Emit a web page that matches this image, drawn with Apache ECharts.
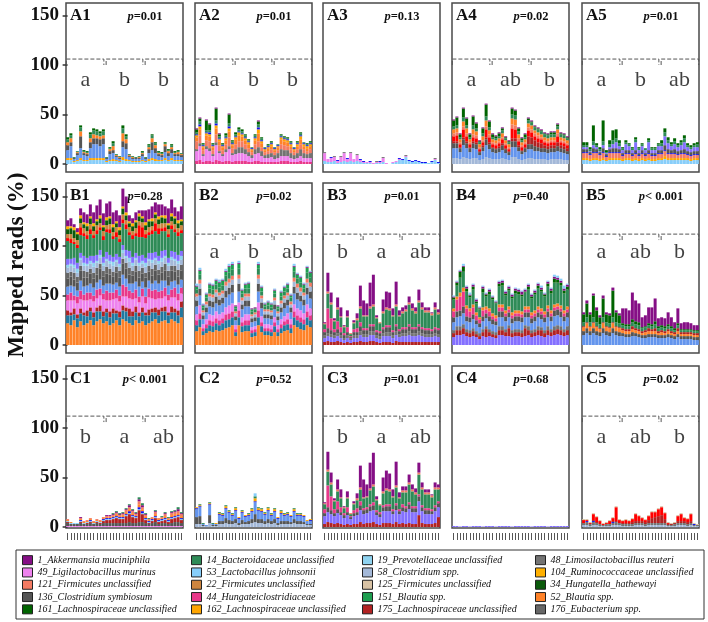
<!DOCTYPE html>
<html><head><meta charset="utf-8">
<script src="https://cdn.jsdelivr.net/npm/echarts@6/dist/echarts.min.js"></script>
<style>html,body{margin:0;padding:0;background:#fff}#c{width:708px;height:622px}</style>
</head><body><div id="c"></div>
<script>
// ---------- categories / labels ----------
const SAMPLES = ['1','2','3','4','5','6','7','8','9','10','11','12','13','14','15','16','17','18','19','20','21','22','23','24','25','26','27','28','29','30','31','32','33','34','35','36'];
const Y_TICKS = [0, 50, 100, 150];
const PANEL_IDS = ['A1','A2','A3','A4','A5','B1','B2','B3','B4','B5','C1','C2','C3','C4','C5'];
const P_VALUES = ['=0.01','=0.01','=0.13','=0.02','=0.01','=0.28','=0.02','=0.01','=0.40','< 0.001','< 0.001','=0.52','=0.01','=0.68','=0.02'];
const GROUP_LETTERS = [['a','b','b'],['a','b','b'],null,['a','ab','b'],['a','b','ab'],null,['a','b','ab'],['b','a','ab'],null,['a','ab','b'],['b','a','ab'],null,['b','a','ab'],null,['a','ab','b']];

// ---------- species ----------
const SP_KEYS = ['s1','s49','s121','s136','s161','s14','s53','s22','s44','s162','s19','s58','s125','s151','s175','s48','s104','s34','s52','s176','xcf','xred','xmp','xteal','xblue'];
const SP_NAMES = ['1_Akkermansia muciniphila','49_Ligilactobacillus murinus','121_Firmicutes unclassified','136_Clostridium symbiosum','161_Lachnospiraceae unclassified',
  '14_Bacteroidaceae unclassified','53_Lactobacillus johnsonii','22_Firmicutes unclassified','44_Hungateiclostridiaceae','162_Lachnospiraceae unclassified',
  '19_Prevotellaceae unclassified','58_Clostridium spp.','125_Firmicutes unclassified','151_Blautia spp.','175_Lachnospiraceae unclassified',
  '48_Limosilactobacillus reuteri','104_Ruminococcaceae unclassified','34_Hungatella_hathewayi','52_Blautia spp.','176_Eubacterium spp.',
  'Other taxa 1','Other taxa 2','Other taxa 3','Other taxa 4','Other taxa 5'];
const SP_COLORS = ['#850F85','#EE82EE','#F47B63','#555555','#006400',
  '#2E8B57','#87CEFA','#CD853F','#E8388A','#FFA500',
  '#8FD3F0','#A3B8D8','#D9C3A5','#1E9E50','#B22222',
  '#737373','#FFB000','#0B5A0B','#FF8228','#666666',
  '#6495ED','#FF0000','#8470FF','#1F78A0','#1010F0'];

// ---------- A1 ----------
const A1_s53 = [4,4,2,3,4,3,3,4,4,4,4,4, 2,3,3,3,2,4,3,3,2,2,2,3, 2,3,4,3,3,3,4,3,4,3,3,3];
const A1_s162 = [2,2,1,1,2,1,1,2,2,2,2,2, 1,1,2,1,1,3,2,1,1,1,1,1, 1,2,2,2,1,1,2,1,2,1,1,1];
const A1_xcf = [8,12,2,5,10,5,4,10,14,14,12,14, 2,6,6,3,2,10,10,3,2,2,2,4, 2,6,8,6,4,3,6,4,5,4,4,3];
const A1_s136 = [5,4,1,2,12,2,2,6,6,6,7,6, 1,3,3,1,1,6,6,1,1,1,1,2, 1,4,8,5,2,2,6,3,4,2,2,2];
const A1_s52 = [3,4,0,1,5,1,1,4,4,3,3,3, 0,2,4,1,1,8,4,1,1,0,1,1, 0,2,4,3,1,1,2,2,2,1,2,1];
const A1_s14 = [3,3,1,1,4,1,1,4,4,4,3,4, 1,1,3,1,1,5,3,1,1,1,1,1, 1,2,3,2,1,1,1,1,2,1,1,1];
const A1_s161 = [2,2,0,0,2,1,1,2,2,2,2,2, 0,1,2,0,0,3,2,0,0,0,0,1, 0,1,1,1,1,1,1,1,1,1,1,0];
// ---------- A2 ----------
const A2_s44 = [3,4,2,3,3,2,4,3,2,3,3,2, 3,3,3,3,2,2,3,3,2,2,2,2, 2,2,3,3,3,2,2,2,3,2,2,2];
const A2_s49 = [10,14,6,12,10,6,15,8,6,9,12,7, 7,8,8,7,6,4,7,8,6,4,4,5, 3,4,5,5,5,4,3,4,5,4,4,4];
const A2_s48 = [2,3,2,3,3,2,3,2,2,3,3,2, 5,6,6,5,4,3,5,6,5,3,4,4, 4,5,7,6,6,5,4,5,7,5,4,5];
const A2_s121 = [8,8,4,6,7,4,8,6,4,5,9,5, 5,6,6,5,4,3,5,6,4,3,3,4, 3,3,5,5,4,4,3,4,5,4,3,4];
const A2_s52 = [4,6,3,5,5,3,6,4,3,4,6,3, 5,6,5,4,4,2,4,8,4,2,3,3, 2,3,5,4,4,3,2,3,5,3,3,3];
const A2_s162 = [2,3,1,2,2,1,3,2,1,2,3,1, 2,3,2,2,2,1,2,4,2,1,1,2, 1,1,2,2,2,2,1,2,3,2,2,2];
const A2_xblue = [1,2,1,1,2,1,2,1,1,1,2,1, 1,1,1,1,1,1,1,2,1,1,1,1, 1,1,1,1,1,1,1,1,1,1,1,1];
const A2_s14 = [2,3,1,2,2,1,3,2,1,2,3,2, 2,2,2,2,1,1,2,3,2,1,1,1, 1,1,1,1,1,1,1,1,2,1,1,1];
const A2_s161 = [3,3,1,10,6,1,12,2,1,2,9,1, 2,2,2,1,1,0,1,3,1,0,1,1, 0,0,1,1,1,1,0,1,1,0,1,1];
const A2_s1 = [1,1,0,1,1,0,1,1,0,0,1,0, 0,0,0,0,0,0,0,1,0,0,0,0, 0,0,0,0,0,0,0,0,0,0,0,0];
// ---------- A3 ----------
const A3_s53 = [3,2,2,3,1,2,3,2,3,2,3,2, 1,1,1,0,1,1,2,0,0,1,2,4, 4,7,3,2,3,2,1,1,1,2,4,1];
const A3_s49 = [8,3,4,4,2,5,8,3,8,3,6,2, 1,1,1,1,1,1,4,1,0,1,1,1, 0,1,0,0,0,0,0,0,0,0,1,0];
const A3_xblue = [0,0,1,0,1,0,0,1,0,0,0,1, 1,0,1,0,0,1,0,0,0,0,0,1, 1,0,1,1,1,1,1,1,0,1,0,1];
const A3_s48 = [1,0,0,1,0,1,1,0,1,0,1,0, 0,0,0,0,1,0,1,0,0,0,0,0, 0,1,0,0,0,0,0,0,0,0,1,0];
// ---------- A4 ----------
const A4_s58 = [6,6,5,7,6,5,6,6,4,5,7,6, 5,5,5,6,5,4,7,7,5,4,5,6, 6,5,5,5,5,4,5,5,5,5,4,4];
const A4_xcf = [10,10,7,12,10,7,10,9,5,8,12,9, 7,6,7,8,6,5,10,10,8,6,7,9, 9,8,8,7,7,7,7,7,8,7,7,6];
const A4_s136 = [5,5,4,6,5,4,5,5,3,4,6,5, 4,4,4,5,4,3,6,6,4,3,4,5, 5,5,4,4,4,4,4,4,5,4,4,3];
const A4_s175 = [2,2,1,2,2,1,2,2,1,2,2,2, 1,1,2,2,1,1,3,3,2,1,1,8, 7,6,5,5,3,3,3,3,4,3,3,3];
const A4_xred = [5,6,3,8,5,3,4,4,2,3,8,5, 3,3,3,4,3,2,10,9,4,3,3,6, 5,4,4,4,3,3,3,3,6,3,3,3];
const A4_s121 = [3,3,2,3,3,2,3,3,2,2,3,3, 2,2,2,2,2,2,4,4,3,2,2,3, 3,3,3,2,2,2,2,2,3,2,2,2];
const A4_s52 = [4,4,3,5,5,3,5,4,3,4,6,4, 3,3,3,4,3,3,6,6,4,3,3,4, 4,3,3,3,3,3,3,3,4,3,3,3];
const A4_s14 = [3,3,2,4,3,2,4,3,2,3,4,3, 2,2,2,3,2,2,4,4,3,2,2,3, 3,3,3,3,3,3,3,3,3,3,3,2];
const A4_s161 = [6,8,3,9,7,3,9,5,1,5,12,6, 3,2,3,2,1,1,6,5,3,2,3,2, 1,1,1,1,1,1,2,2,2,1,1,1];
const A4_s1 = [1,1,1,1,1,1,1,1,1,1,1,1, 1,1,1,1,1,1,1,1,1,1,1,1, 1,1,1,1,1,1,1,1,1,1,1,1];
// ---------- A5 ----------
const A5_s53 = [4,4,3,4,4,3,4,3,4,4,4,4, 3,4,4,3,4,3,4,3,4,3,3,4, 4,5,4,4,4,4,4,4,4,3,4,4];
const A5_s162 = [2,2,2,2,2,2,2,1,2,2,2,2, 2,2,2,2,2,2,2,2,2,2,2,2, 2,3,2,2,2,2,2,2,2,2,2,2];
const A5_s121 = [5,5,4,5,5,4,5,3,5,5,5,5, 3,4,4,3,4,3,4,3,4,3,3,4, 4,5,4,4,4,3,4,4,3,3,3,3];
const A5_xblue = [1,1,1,1,1,1,1,1,1,1,1,1, 1,1,1,1,1,1,1,1,1,1,1,1, 1,1,1,1,1,1,1,1,1,1,1,1];
const A5_s136 = [3,3,2,4,3,2,4,2,3,4,4,3, 2,3,3,2,3,2,3,2,3,2,2,3, 3,5,4,3,4,3,3,4,3,3,3,3];
const A5_xmp = [2,2,1,3,2,1,3,1,2,4,6,3, 3,6,4,3,8,3,4,3,8,3,3,4, 4,9,6,4,5,4,5,7,4,3,4,4];
const A5_s14 = [2,2,2,4,2,2,4,1,3,4,4,3, 2,2,2,2,3,2,2,2,2,2,2,2, 3,4,3,2,3,2,3,4,2,2,2,3];
const A5_s161 = [3,3,2,16,2,2,21,2,4,10,9,3, 1,2,1,1,2,1,1,0,2,1,1,1, 3,4,3,2,3,2,2,3,2,2,2,2];
// ---------- B1 ----------
const B1_s52 = [22,20,25,18,24,20,22,25,20,24,26,22, 24,20,22,25,20,26,24,22,20,25,22,24, 20,22,24,26,22,24,25,22,26,24,22,28];
const B1_xteal = [8,10,6,9,8,10,7,9,8,10,8,7, 9,8,10,7,8,9,10,7,9,8,7,9, 10,8,9,7,8,10,9,8,7,9,8,10];
const B1_s175 = [5,3,6,4,5,3,6,4,5,4,6,5, 4,6,5,3,6,5,4,8,5,6,4,5, 3,6,4,5,6,4,5,3,6,4,5,6];
const B1_s49 = [10,12,8,11,9,12,10,8,11,9,10,12, 8,11,9,12,10,9,11,10,12,8,10,11, 9,12,10,8,11,9,10,12,9,11,10,8];
const B1_s44 = [6,8,5,7,9,6,8,7,6,9,7,6, 10,8,7,9,6,12,10,8,7,9,6,8, 7,9,8,10,7,8,9,6,8,10,7,6];
const B1_xcf = [8,7,9,6,10,8,7,9,8,7,9,8, 7,9,8,7,9,10,8,7,9,8,10,7, 9,8,7,9,8,10,7,9,8,7,9,8];
const B1_s136 = [8,9,7,8,10,9,8,10,9,8,11,9, 10,9,8,10,9,11,10,9,8,10,9,8, 10,9,8,10,9,8,10,9,11,9,8,9];
const B1_s176 = [6,5,7,6,5,7,6,5,6,7,5,6, 7,6,5,6,7,5,6,7,5,6,7,6, 5,6,7,6,5,6,7,6,5,6,7,6];
const B1_s58 = [5,6,5,4,6,5,6,5,6,5,6,5, 6,5,6,5,4,6,5,6,5,6,5,4, 6,5,6,5,6,5,6,5,6,5,6,5];
const B1_s19 = [3,2,3,4,2,3,2,3,4,2,3,3, 2,3,4,2,3,3,2,4,3,2,3,3, 4,2,3,2,3,4,2,3,3,2,3,4];
const B1_xmp = [6,5,7,6,5,7,6,5,7,6,5,6, 7,6,5,6,7,5,6,7,6,5,7,6, 5,6,7,6,5,7,6,5,6,7,6,5];
const B1_s14 = [18,16,14,15,18,20,19,22,18,21,20,17, 20,22,18,17,15,22,21,16,18,17,19,18, 20,18,19,21,22,20,19,21,22,20,19,18];
const B1_xred = [3,4,2,3,8,3,4,5,3,4,3,4, 3,4,3,5,3,4,5,3,4,3,12,10, 4,3,4,8,6,3,4,3,4,3,4,3];
const B1_s22 = [4,5,4,5,4,5,4,5,4,5,4,5, 4,5,4,5,4,5,4,5,4,5,4,5, 4,5,4,5,4,5,4,5,4,5,4,5];
const B1_s34 = [5,6,8,6,5,4,5,6,5,4,5,4, 5,6,5,4,5,6,5,4,5,6,5,4, 5,6,5,4,5,6,5,4,5,6,5,4];
const B1_s104 = [3,2,3,2,3,2,3,2,3,2,3,2, 3,2,3,2,3,2,3,2,3,2,3,2, 3,2,3,2,3,2,3,2,3,2,3,2];
const B1_s1 = [6,8,3,4,7,10,9,12,11,14,16,12, 14,15,12,11,12,18,16,6,5,8,3,6, 12,10,12,10,12,11,9,15,14,9,9,13];
// ---------- B2 ----------
const B2_s52 = [14,18,10,12,14,13,15,14,15,17,18,20, 9,20,13,14,14,8,9,20,13,10,10,9, 13,9,12,14,15,12,20,18,16,15,20,18];
const B2_xteal = [6,8,4,5,6,6,7,6,7,8,8,8, 4,8,6,6,6,4,4,8,6,4,4,4, 6,4,5,6,6,5,8,7,7,6,8,7];
const B2_s44 = [5,6,3,4,5,5,5,5,5,6,6,6, 3,7,4,5,5,3,3,7,4,3,3,3, 4,3,4,4,5,4,6,5,5,5,6,5];
const B2_s49 = [6,8,4,5,6,6,7,6,6,7,8,8, 4,8,5,6,6,3,3,8,6,4,4,4, 5,4,5,5,6,5,7,7,7,6,7,7];
const B2_xcf = [8,10,5,7,8,8,8,9,9,10,11,11, 5,11,8,8,8,5,5,11,8,6,6,6, 8,5,7,8,8,7,11,9,9,8,10,10];
const B2_s136 = [6,7,4,5,6,6,7,6,6,7,7,8, 4,8,5,6,6,4,4,8,6,4,4,4, 5,4,5,6,6,5,7,7,6,6,7,7];
const B2_s58 = [4,5,3,3,4,4,4,4,4,5,5,5, 3,5,4,4,4,2,3,5,4,3,3,3, 4,3,4,4,4,3,5,5,4,4,5,5];
const B2_s121 = [3,4,2,3,3,3,3,3,3,4,4,4, 2,4,3,3,3,2,2,4,3,2,2,2, 3,2,3,3,3,3,4,4,4,3,4,4];
const B2_s14 = [4,5,3,4,5,5,5,5,5,6,6,6, 3,6,4,5,5,3,3,6,4,3,4,3, 4,3,4,4,4,4,6,5,5,4,6,5];
const B2_s151 = [3,4,2,3,4,4,4,5,5,4,6,5, 2,5,3,4,5,2,1,4,4,2,3,3, 3,2,4,4,4,2,5,4,5,4,5,5];
const B2_s1 = [1,1,1,1,1,1,1,1,1,1,1,1, 1,1,1,1,1,1,1,1,1,1,1,1, 1,1,1,1,1,1,1,1,1,1,1,1];
const B2_s53 = [2,2,1,1,1,1,1,2,1,2,2,2, 0,2,1,1,1,0,0,2,1,1,1,1, 1,0,1,1,1,1,2,1,1,1,1,1];
// ---------- B3 ----------
const B3_s175 = [3,4,3,3,4,3,2,3,2,3,3,4, 3,3,4,4,3,2,3,3,3,2,4,3, 3,3,3,3,3,3,3,3,3,3,3,3];
const B3_xmp = [4,5,5,4,5,4,3,4,3,4,4,6, 5,5,6,6,4,4,6,6,6,5,6,5, 6,6,7,6,6,7,6,5,5,5,6,5];
const B3_s48 = [3,3,3,3,3,3,2,3,2,3,3,4, 3,3,4,4,3,3,3,4,4,3,4,3, 3,3,4,3,3,4,3,3,3,3,3,3];
const B3_s136 = [3,5,4,3,4,3,3,3,1,3,3,5, 4,4,5,5,3,3,4,5,5,3,5,3, 4,4,5,4,4,5,4,4,4,3,4,4];
const B3_s44 = [3,20,12,3,8,5,2,5,1,3,4,4, 2,2,2,2,2,2,2,2,2,2,2,2, 2,2,2,2,2,2,2,2,2,2,2,2];
const B3_s14 = [5,15,14,8,12,10,6,10,2,6,8,14, 12,12,16,18,12,8,14,16,15,14,18,13, 14,16,20,17,14,22,18,16,16,14,18,14];
const B3_s121 = [1,2,2,1,2,1,1,1,1,1,2,2, 1,1,2,2,1,1,2,2,2,1,2,1, 2,2,2,2,2,2,2,2,2,2,2,2];
const B3_s1 = [1,19,10,2,10,9,1,6,0,2,5,21, 15,12,24,30,2,0,12,16,16,7,23,5, 4,4,6,5,4,11,5,3,3,1,5,3];
// ---------- B4 ----------
const B4_xmp = [8,10,10,11,9,8,9,8,6,9,8,9, 8,7,10,10,9,9,8,9,9,8,9,10, 8,9,10,9,8,10,9,10,11,10,9,10];
const B4_s175 = [4,5,5,6,4,4,5,3,3,4,8,4, 3,3,5,5,4,8,4,4,4,4,8,5, 4,4,5,6,4,5,4,5,5,5,4,5];
const B4_s48 = [3,4,4,4,3,3,3,3,3,3,3,3, 3,3,4,4,3,3,3,3,3,3,3,4, 3,3,4,3,3,4,3,4,4,4,3,4];
const B4_xcf = [8,9,10,11,8,8,9,7,6,8,8,8, 7,7,9,9,8,8,7,8,8,8,8,9, 7,8,9,8,8,9,8,10,10,9,8,9];
const B4_s136 = [5,6,6,7,5,5,5,4,4,5,5,5, 5,4,6,6,5,5,5,5,5,5,5,5, 5,5,5,5,5,6,5,6,6,6,5,5];
const B4_s44 = [6,12,14,15,8,6,7,5,4,6,4,5, 3,3,4,4,3,3,3,3,3,3,3,3, 3,3,3,3,3,3,3,3,3,3,3,3];
const B4_s52 = [3,3,4,4,3,3,3,3,2,3,3,3, 3,3,3,3,3,3,3,3,3,3,3,3, 3,3,3,3,3,3,3,3,3,3,3,3];
const B4_s14 = [9,11,15,16,14,11,15,9,8,15,10,14, 14,12,18,19,15,16,14,17,16,15,14,17, 14,16,18,17,15,19,17,22,21,20,17,17];
const B4_s161 = [2,3,6,5,3,2,3,2,1,4,2,3, 2,1,3,3,2,2,2,3,3,2,1,3, 2,2,3,2,2,3,3,4,3,3,3,3];
const B4_s1 = [1,1,1,1,2,1,2,2,1,2,1,2, 1,1,2,2,2,2,2,2,2,3,2,2, 2,2,2,2,1,2,2,2,2,2,2,2];
const B4_s53 = [1,1,1,2,1,2,1,1,1,1,1,1, 1,1,1,1,1,1,1,1,1,1,1,1, 1,1,1,2,1,1,1,2,2,2,3,1];
// ---------- B5 ----------
const B5_xcf = [10,12,10,12,10,9,12,10,9,12,10,9, 9,8,8,9,9,8,7,7,8,8,8,7, 7,7,8,7,6,8,6,6,6,6,5,5];
const B5_s136 = [4,5,4,5,4,4,5,4,4,5,4,4, 3,3,3,4,3,3,3,3,3,3,3,3, 3,3,3,3,3,3,3,3,3,3,3,3];
const B5_s52 = [4,5,4,5,4,3,5,4,4,5,4,4, 3,3,3,3,3,3,2,3,3,3,3,2, 3,2,3,2,2,3,2,2,2,2,2,2];
const B5_s175 = [1,1,1,1,1,1,1,1,1,1,1,1, 2,2,2,3,2,2,2,2,3,2,3,2, 2,2,2,2,2,3,2,2,2,2,2,2];
const B5_s14 = [4,5,4,5,4,4,5,4,4,5,4,4, 3,3,3,4,4,4,3,3,3,3,4,3, 3,3,3,3,2,3,2,2,2,2,2,2];
const B5_s161 = [8,14,8,22,12,7,19,8,8,27,10,8, 2,2,2,3,3,3,1,1,2,2,3,2, 2,2,2,2,2,2,1,1,1,1,1,1];
const B5_s1 = [2,3,2,2,3,2,3,2,2,3,2,2, 15,16,14,27,21,19,10,11,16,17,23,8, 8,8,12,9,6,15,6,7,7,6,5,5];
// ---------- C1 ----------
const C1_s49 = [1,1,1,1,1,1,1,1,1,1,1,1, 1,1,1,1,1,1,1,1,1,1,1,1, 1,1,1,1,1,1,1,1,1,1,1,1];
const C1_s136 = [3,2,2,2,3,2,2,3,2,3,2,3, 3,3,3,3,3,3,3,4,3,3,4,4, 3,2,3,4,2,3,3,2,3,4,4,3];
const C1_s175 = [1,0,0,0,1,0,1,1,0,1,1,2, 3,3,4,5,4,4,7,8,6,5,12,8, 3,1,2,4,2,2,3,2,4,4,5,3];
const C1_s53 = [1,1,1,1,1,1,1,1,1,1,1,1, 1,1,1,1,1,1,1,1,1,1,1,1, 1,1,1,1,1,1,1,1,1,1,1,1];
const C1_xblue = [0,0,0,0,1,0,0,1,0,0,0,1, 1,1,1,1,1,1,1,2,1,1,2,2, 1,1,1,1,1,1,1,1,1,1,1,1];
const C1_s52 = [1,1,0,0,1,1,1,1,1,1,1,1, 1,1,1,2,1,2,2,2,2,1,3,2, 2,1,1,2,1,1,2,1,2,2,2,2];
const C1_s121 = [1,0,0,0,1,1,1,1,1,1,1,1, 1,1,1,1,1,1,2,2,2,1,3,2, 1,1,1,2,1,1,2,1,2,2,2,2];
const C1_s1 = [0,0,0,0,1,0,0,0,0,0,0,0, 1,1,1,1,1,1,1,2,1,1,2,2, 1,0,0,1,0,0,1,0,1,1,2,1];
const C1_s14 = [0,0,0,0,0,0,0,0,0,0,0,0, 0,0,1,1,1,1,1,1,1,1,2,2, 1,1,0,1,0,1,1,1,1,1,2,1];
// ---------- C2 ----------
const C2_s58 = [3,3,1,1,4,1,1,3,3,4,3,3, 4,2,3,3,3,4,5,4,4,3,4,3, 4,2,3,3,3,3,4,3,3,3,2,2];
const C2_s136 = [7,8,1,0,8,1,1,3,3,5,4,3, 4,2,4,2,3,4,8,4,4,3,4,3, 4,2,3,3,3,2,4,3,3,2,1,1];
const C2_xcf = [8,9,1,1,10,1,1,6,5,9,7,5, 8,4,7,5,5,7,12,8,7,6,8,5, 7,4,7,5,6,5,7,5,5,5,3,3];
const C2_xblue = [1,1,0,0,1,0,0,1,1,1,1,1, 1,1,1,1,1,1,1,1,1,1,1,1, 1,1,1,1,1,1,1,1,1,1,0,1];
const C2_s162 = [1,1,0,0,1,0,1,1,1,2,1,1, 2,1,1,1,1,2,3,2,2,1,2,1, 2,1,2,1,1,1,2,1,1,1,1,1];
const C2_s14 = [0,1,1,0,1,1,0,1,1,1,1,1, 1,0,1,0,1,1,2,1,1,1,1,1, 1,0,1,1,1,0,1,1,1,0,0,0];
const C2_s53 = [0,0,0,0,0,0,0,0,0,0,0,0, 0,0,0,0,0,0,3,0,0,0,0,0, 0,0,0,0,0,0,0,0,0,0,0,0];
// ---------- C3 ----------
const C3_s175 = [3,5,4,3,4,3,2,3,2,3,3,5, 3,4,4,5,3,2,4,4,4,3,5,3, 4,3,4,3,3,12,4,3,3,3,4,10];
const C3_xmp = [8,10,9,8,10,9,7,9,6,8,9,12, 10,10,12,12,9,8,12,12,12,10,12,10, 12,12,14,12,12,14,12,10,10,10,12,10];
const C3_s136 = [3,5,4,3,4,3,3,3,2,3,3,5, 4,4,5,5,3,3,4,5,5,3,5,3, 4,4,5,4,4,5,4,4,4,3,4,4];
const C3_s44 = [4,22,14,4,8,5,2,5,1,3,4,4, 2,2,2,3,2,2,2,2,2,2,2,2, 3,2,2,2,2,2,2,2,2,2,2,2];
const C3_s14 = [5,14,12,8,10,9,5,9,2,6,8,12, 10,10,14,16,10,7,12,14,13,12,16,11, 12,14,18,15,12,20,16,14,14,12,16,12];
const C3_s121 = [1,2,2,1,2,1,1,1,1,1,2,2, 1,1,2,2,1,1,2,2,2,1,2,1, 2,2,2,2,2,2,2,2,2,2,2,2];
const C3_s1 = [1,18,10,2,10,8,1,6,0,2,5,22, 18,12,26,32,3,0,14,18,16,7,24,5, 4,4,8,5,4,10,5,3,3,1,5,3];
// ---------- C4 ----------
const C4_xmp = [1,1,0.5,1,1,0.5,1,1,1,0.5,1,1, 1,0.5,1,1,1,1,0.5,1,1,1,1,1, 0.5,1,1,1,1,0.5,1,1,1,1,1,1];
// ---------- C5 ----------
const C5_s58 = [2,2,1,2,2,1,1,1,1,2,2,2, 1,1,1,1,2,2,2,1,2,2,2,2, 2,2,1,1,1,2,2,2,1,2,1,1];
const C5_s48 = [2,3,2,3,2,2,1,2,2,2,3,2, 2,2,2,2,2,2,2,2,2,2,2,2, 2,2,1,1,2,2,2,2,2,2,1,1];
const C5_xblue = [0,1,0,1,0,0,0,0,0,1,0,0, 0,0,0,0,0,0,0,0,0,0,0,0, 0,0,0,0,0,0,0,0,0,0,1,0];
const C5_s175 = [0,0,0,1,1,0,0,0,0,1,1,0, 1,1,1,2,2,2,2,2,3,5,6,7, 8,4,1,1,1,2,2,2,2,2,0,0];
const C5_xred = [3,1,1,6,5,3,1,1,3,3,14,3, 2,3,2,3,7,5,3,2,4,6,5,7, 8,6,1,0,0,5,7,3,3,7,0,0];
const C5_s125 = [1,1,1,1,1,1,1,1,1,1,1,1, 1,1,1,1,1,1,1,1,1,1,1,1, 1,1,1,1,1,1,1,1,1,1,1,1];

// ---------- layer order per panel (bottom -> top) ----------
const PANEL_LAYERS = [
  [['s53',A1_s53],['s162',A1_s162],['xcf',A1_xcf],['s136',A1_s136],['s52',A1_s52],['s14',A1_s14],['s161',A1_s161]],
  [['s44',A2_s44],['s49',A2_s49],['s48',A2_s48],['s121',A2_s121],['s52',A2_s52],['s162',A2_s162],['xblue',A2_xblue],['s14',A2_s14],['s161',A2_s161],['s1',A2_s1]],
  [['s53',A3_s53],['s49',A3_s49],['xblue',A3_xblue],['s48',A3_s48]],
  [['s58',A4_s58],['xcf',A4_xcf],['s136',A4_s136],['s175',A4_s175],['xred',A4_xred],['s121',A4_s121],['s52',A4_s52],['s14',A4_s14],['s161',A4_s161],['s1',A4_s1]],
  [['s53',A5_s53],['s162',A5_s162],['s121',A5_s121],['xblue',A5_xblue],['s136',A5_s136],['xmp',A5_xmp],['s14',A5_s14],['s161',A5_s161]],
  [['s52',B1_s52],['xteal',B1_xteal],['s175',B1_s175],['s49',B1_s49],['s44',B1_s44],['xcf',B1_xcf],['s136',B1_s136],['s176',B1_s176],['s58',B1_s58],['s19',B1_s19],['xmp',B1_xmp],['s14',B1_s14],['xred',B1_xred],['s22',B1_s22],['s34',B1_s34],['s104',B1_s104],['s1',B1_s1]],
  [['s52',B2_s52],['xteal',B2_xteal],['s44',B2_s44],['s49',B2_s49],['xcf',B2_xcf],['s136',B2_s136],['s58',B2_s58],['s121',B2_s121],['s14',B2_s14],['s151',B2_s151],['s1',B2_s1],['s53',B2_s53]],
  [['s175',B3_s175],['xmp',B3_xmp],['s48',B3_s48],['s136',B3_s136],['s44',B3_s44],['s14',B3_s14],['s121',B3_s121],['s1',B3_s1]],
  [['xmp',B4_xmp],['s175',B4_s175],['s48',B4_s48],['xcf',B4_xcf],['s136',B4_s136],['s44',B4_s44],['s52',B4_s52],['s14',B4_s14],['s161',B4_s161],['s1',B4_s1],['s53',B4_s53]],
  [['xcf',B5_xcf],['s136',B5_s136],['s52',B5_s52],['s175',B5_s175],['s14',B5_s14],['s161',B5_s161],['s1',B5_s1]],
  [['s49',C1_s49],['s136',C1_s136],['s175',C1_s175],['s53',C1_s53],['xblue',C1_xblue],['s52',C1_s52],['s121',C1_s121],['s1',C1_s1],['s14',C1_s14]],
  [['s58',C2_s58],['s136',C2_s136],['xcf',C2_xcf],['xblue',C2_xblue],['s162',C2_s162],['s14',C2_s14],['s53',C2_s53]],
  [['s175',C3_s175],['xmp',C3_xmp],['s136',C3_s136],['s44',C3_s44],['s14',C3_s14],['s121',C3_s121],['s1',C3_s1]],
  [['xmp',C4_xmp]],
  [['s58',C5_s58],['s48',C5_s48],['xblue',C5_xblue],['s175',C5_s175],['xred',C5_xred],['s125',C5_s125]]
];

// ---------- layout ----------
const ROW_TOP = [3, 183, 366], ROW_BOTTOM = [172, 353, 528], ROW_BASE = [164, 345, 527];
const COL_LEFT = [66, 195, 323, 452, 582], PANEL_W = 117, PX_PER_UNIT = 0.99;
const BRACKET_Y = [106, 112, 112], LETTER_Y = [85, 94, 91];
const SERIF = '"Liberation Serif","Times New Roman",serif';

const grids = [], xAxes = [], yAxes = [], series = [], graphics = [];
PANEL_IDS.forEach((pid, k) => {
  const row = Math.floor(k / 5), col = k % 5;
  const top = ROW_TOP[row], bottom = ROW_BOTTOM[row], base = ROW_BASE[row], left = COL_LEFT[col];
  grids.push({left: left, top: top, width: PANEL_W, height: bottom - top, show: true,
    borderColor: '#4a4a4a', borderWidth: 1.5, backgroundColor: '#fff', containLabel: false});
  xAxes.push({gridIndex: k, type: 'category', data: SAMPLES, show: row === 2, position: 'bottom', offset: 5,
    axisLine: {show: true, onZero: false, lineStyle: {color: 'rgba(0,0,0,0)'}},
    axisLabel: {show: false}, splitLine: {show: false},
    axisTick: {show: true, alignWithLabel: true, interval: 0, length: 7, lineStyle: {color: '#555', width: 1}}});
  xAxes.push({gridIndex: k, type: 'value', min: -0.5, max: 35.5, show: false});
  yAxes.push({gridIndex: k, type: 'value', min: -(bottom - base) / PX_PER_UNIT, max: (base - top) / PX_PER_UNIT,
    show: col === 0, axisLine: {show: false}, splitLine: {show: false},
    axisTick: {show: true, length: 5, customValues: Y_TICKS, lineStyle: {color: '#333', width: 1.5}},
    axisLabel: {show: true, customValues: Y_TICKS, fontFamily: SERIF, fontWeight: 'bold', fontSize: 19, color: '#111', margin: 7}});
  PANEL_LAYERS[k].forEach(([key, vals]) => {
    const si = SP_KEYS.indexOf(key);
    series.push({type: 'bar', name: SP_NAMES[si], xAxisIndex: 2 * k, yAxisIndex: k, stack: 'st' + k,
      data: vals, itemStyle: {color: SP_COLORS[si]}, barCategoryGap: '8%', silent: true});
  });
  const letters = GROUP_LETTERS[k];
  if (letters) {
    const yb = BRACKET_Y[row];
    [0, 1, 2].forEach(g => {
      const s = g * 12 - 0.5 + (g === 0 ? 0.1 : 0.35), e = g * 12 + 11.5 - (g === 2 ? 0.1 : 0.35);
      series.push({type: 'line', xAxisIndex: 2 * k + 1, yAxisIndex: k, symbol: 'none', silent: true,
        data: [[s, yb - 6], [s, yb], [e, yb], [e, yb - 6]], lineStyle: {type: [4, 2], color: '#555', width: 1}});
    });
    series.push({type: 'scatter', xAxisIndex: 2 * k + 1, yAxisIndex: k, silent: true, symbolSize: 1,
      itemStyle: {color: 'rgba(0,0,0,0)'},
      data: [[5.5, LETTER_Y[row]], [17.5, LETTER_Y[row]], [29.5, LETTER_Y[row]]],
      label: {show: true, position: 'inside', formatter: p => letters[p.dataIndex], fontFamily: SERIF, fontSize: 22, color: '#111'}});
  }
  graphics.push({type: 'text', x: left + 4, y: top + 4, silent: true,
    style: {text: pid, font: 'bold 17px ' + SERIF, fill: '#111', textAlign: 'left', textVerticalAlign: 'top'}});
  graphics.push({type: 'text', x: left + 79, y: top + 14, silent: true,
    style: {text: '{i|p}{b|' + P_VALUES[k] + '}', textAlign: 'center', textVerticalAlign: 'middle', fill: '#111',
      rich: {i: {fontStyle: 'italic', fontWeight: 'bold', fontSize: 12.5, fontFamily: SERIF, fill: '#111'},
             b: {fontWeight: 'bold', fontSize: 12.5, fontFamily: SERIF, fill: '#111'}}}});
});

graphics.push({type: 'text', x: 17, y: 265, rotation: Math.PI / 2, silent: true,
  style: {text: 'Mapped reads (%)', font: 'bold 23px ' + SERIF, fill: '#111', textAlign: 'center', textVerticalAlign: 'middle'}});
graphics.push({type: 'rect', shape: {x: 16, y: 550, width: 688, height: 69}, silent: true,
  style: {fill: 'none', stroke: '#333', lineWidth: 1}});

const LEG_X = [22, 191, 362, 535];
const legends = [0, 1, 2, 3].map(c => ({
  data: SP_NAMES.slice(c * 5, c * 5 + 5), orient: 'vertical', left: LEG_X[c], top: 554,
  itemWidth: 10, itemHeight: 9, itemGap: 0, icon: 'rect', selectedMode: false, padding: 0,
  itemStyle: {borderColor: '#222', borderWidth: 1},
  textStyle: {fontFamily: SERIF, fontStyle: 'italic', fontSize: 10, lineHeight: 12.3, color: '#111'}
}));

const chart = echarts.init(document.getElementById('c'), null, {renderer: 'canvas'});
chart.setOption({
  animation: false, backgroundColor: '#fff',
  grid: grids, xAxis: xAxes, yAxis: yAxes, series: series, legend: legends, graphic: graphics
});
</script></body></html>
